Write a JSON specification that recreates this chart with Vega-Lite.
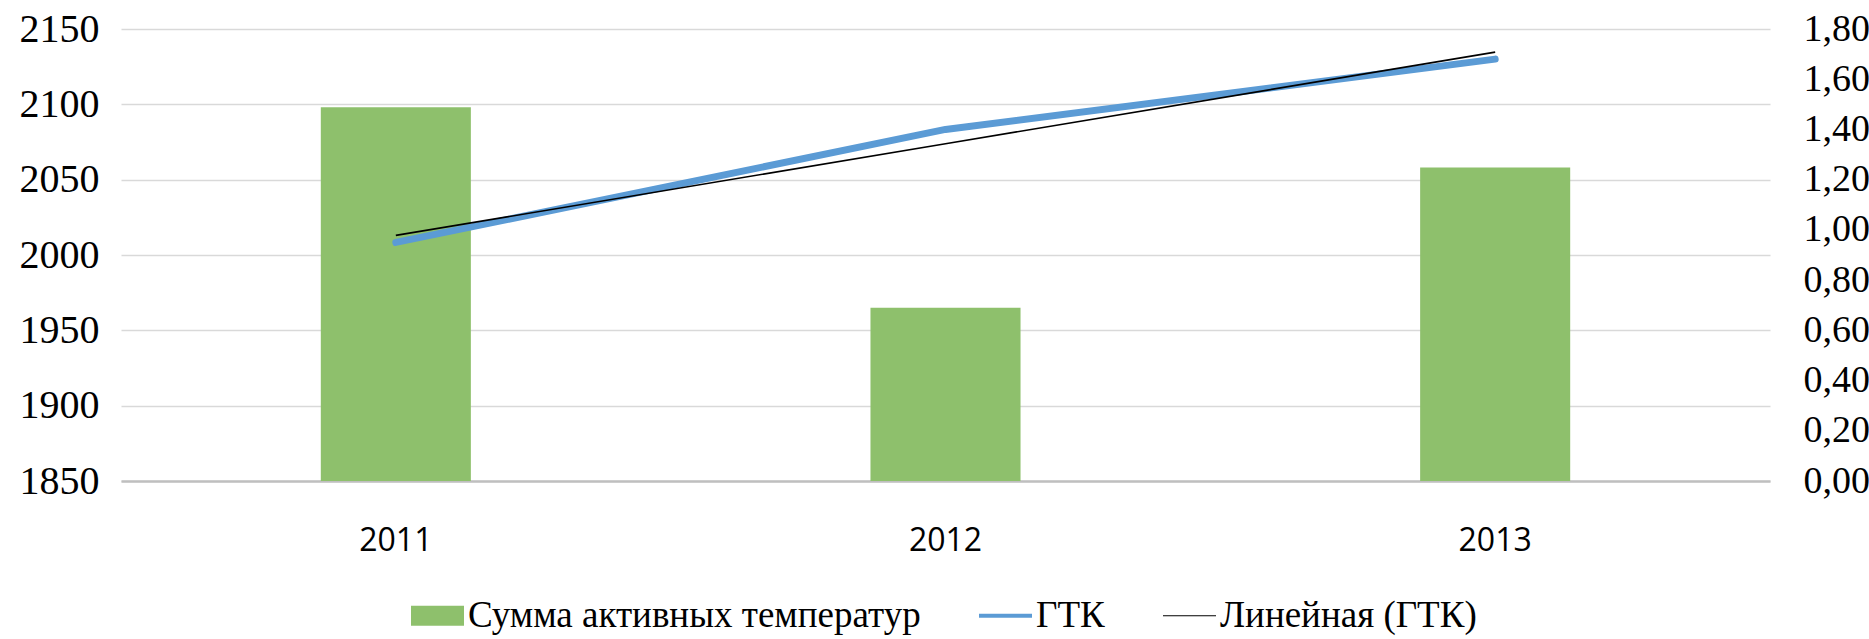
{
  "$schema": "https://vega.github.io/schema/vega-lite/v6.json",
  "width": 1649,
  "height": 452,
  "autosize": {"type": "none"},
  "padding": {"left": 121, "top": 29, "right": 99, "bottom": 158},
  "background": "white",
  "config": {"view": {"stroke": null}, "font": "Liberation Serif"},
  "data": {
    "values": [
      {"year": "2011", "sum": 2098, "gtk": 0.95, "trend": 0.978},
      {"year": "2012", "sum": 1965, "gtk": 1.40, "trend": 1.343},
      {"year": "2013", "sum": 2058, "gtk": 1.68, "trend": 1.708}
    ]
  },
  "encoding": {
    "x": {
      "field": "year",
      "type": "ordinal",
      "scale": {"paddingInner": 0, "paddingOuter": 0},
      "axis": {
        "title": null,
        "labelAngle": 0,
        "labelFont": "Open Sans",
        "labelFontSize": 32,
        "labelColor": "#000000",
        "labelPadding": 44,
        "ticks": false,
        "grid": false,
        "domain": true,
        "domainColor": "#bfbfbf",
        "domainWidth": 2.5
      }
    }
  },
  "layer": [
    {
      "mark": {"type": "bar", "width": {"band": 0.273}},
      "encoding": {
        "y": {
          "field": "sum",
          "type": "quantitative",
          "scale": {"domain": [1850, 2150], "zero": false},
          "axis": {
            "title": null,
            "values": [1850, 1900, 1950, 2000, 2050, 2100, 2150],
            "format": "d",
            "grid": true,
            "gridColor": "#d9d9d9",
            "gridWidth": 1.3,
            "domain": false,
            "ticks": false,
            "labelFont": "Liberation Serif",
            "labelFontSize": 40,
            "labelColor": "#000000",
            "labelPadding": 22
          }
        },
        "y2": {"datum": 1850},
        "color": {
          "datum": "Сумма активных температур",
          "type": "nominal",
          "scale": {
            "domain": ["Сумма активных температур", "ГТК", "Линейная (ГТК)"],
            "range": ["#8ec06c", "#5b9bd5", "#000000"]
          },
          "legend": {
            "title": null,
            "orient": "none",
            "legendX": 290,
            "legendY": 560,
            "direction": "horizontal",
            "labelFont": "Liberation Serif",
            "labelFontSize": 37,
            "labelColor": "#000000",
            "labelLimit": 0,
            "labelOffset": 4,
            "columnPadding": 58,
            "symbolSize": 2809,
            "symbolStrokeWidth": 0,
            "encode": {
              "symbols": {
                "update": {
                  "shape": {"signal": "datum.value === 'ГТК' ? 'M-1,-0.08H1V0.08H-1Z' : datum.value === 'Линейная (ГТК)' ? 'M-1,-0.02H1V0.02H-1Z' : 'M-1,-0.38H1V0.38H-1Z'"},
                  "fill": {"signal": "scale('color', datum.value)"},
                  "stroke": {"value": "transparent"},
                  "strokeWidth": {"value": 0},
                  "opacity": {"value": 1}
                }
              }
            }
          }
        }
      }
    },
    {
      "layer": [
        {
          "mark": {"type": "line", "strokeWidth": 7, "strokeCap": "round", "strokeJoin": "round"},
          "encoding": {
            "y": {
              "field": "gtk",
              "type": "quantitative",
              "scale": {"domain": [0, 1.8]},
              "axis": {
                "orient": "right",
                "title": null,
                "values": [0, 0.2, 0.4, 0.6, 0.8, 1.0, 1.2, 1.4, 1.6, 1.8],
                "labelExpr": "replace(format(datum.value, '.2f'), '.', ',')",
                "grid": false,
                "domain": false,
                "ticks": false,
                "labelFont": "Liberation Serif",
                "labelFontSize": 38,
                "labelColor": "#000000",
                "labelPadding": 33
              }
            },
            "color": {"datum": "ГТК", "type": "nominal"}
          }
        },
        {
          "mark": {"type": "line", "strokeWidth": 1.6},
          "encoding": {
            "y": {"field": "trend", "type": "quantitative"},
            "color": {"datum": "Линейная (ГТК)", "type": "nominal"}
          }
        }
      ]
    }
  ],
  "resolve": {"scale": {"y": "independent"}}
}
